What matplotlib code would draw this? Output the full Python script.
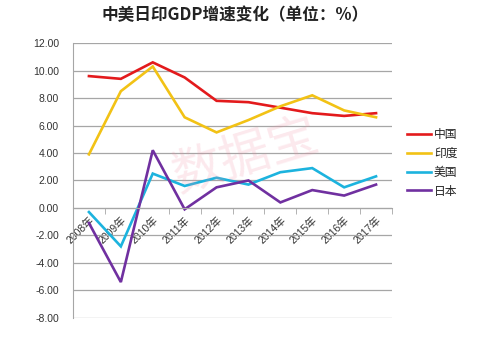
import matplotlib
matplotlib.use("Agg")
import matplotlib.pyplot as plt
from matplotlib.ticker import FixedLocator, NullFormatter

plt.rcParams['font.family'] = ['Noto Sans CJK SC', 'DejaVu Sans']

years = ["2008年", "2009年", "2010年", "2011年", "2012年",
         "2013年", "2014年", "2015年", "2016年", "2017年"]
china = [9.6, 9.4, 10.6, 9.5, 7.8, 7.7, 7.3, 6.9, 6.7, 6.9]
india = [3.9, 8.5, 10.3, 6.6, 5.5, 6.4, 7.4, 8.2, 7.1, 6.6]
usa = [-0.3, -2.8, 2.5, 1.6, 2.2, 1.7, 2.6, 2.9, 1.5, 2.3]
japan = [-1.1, -5.4, 4.2, -0.1, 1.5, 2.0, 0.4, 1.3, 0.9, 1.7]
y_ticks = [-8, -6, -4, -2, 0, 2, 4, 6, 8, 10, 12]

series = [("中国", china, "#E31A1C"),
          ("印度", india, "#F2C215"),
          ("美国", usa, "#1CB3DE"),
          ("日本", japan, "#7030A0")]

tick_family = ['Liberation Sans', 'Noto Sans CJK SC']

fig = plt.figure(figsize=(5.0, 3.37), dpi=100)
ax = fig.add_axes([0.146, 0.057, 0.638, 0.815])

# faint watermark behind the plot
fig.text(0.49, 0.535, "数据宝", ha="center", va="center", fontsize=36,
         color="#F08FA5", alpha=0.2, rotation=17, zorder=0)

x = list(range(len(years)))
for name, vals, col in series:
    ax.plot(x, vals, color=col, lw=1.9, label=name, solid_joinstyle='miter')

ax.set_xlim(-0.5, len(years) - 0.5)
ax.set_ylim(-8, 12)
ax.set_yticks(y_ticks)
ax.set_yticklabels([f"{v:.2f}" for v in y_ticks], fontsize=7.5,
                   color="#333333", family=tick_family)
ax.tick_params(axis='y', length=0, pad=10)
ax.yaxis.grid(True, color="#A6A6A6", lw=0.9)
ax.set_axisbelow(True)
ax.patch.set_alpha(0)

for s in ("top", "right"):
    ax.spines[s].set_visible(False)
ax.spines["left"].set_color("#A6A6A6")
ax.spines["bottom"].set_position(("data", 0))
ax.spines["bottom"].set_color("#A6A6A6")

ax.set_xticks(x)
ax.set_xticklabels(years, rotation=45, ha="right", va="top",
                   rotation_mode="anchor", fontsize=7.5, color="#333333",
                   family=tick_family)
ax.tick_params(axis='x', which='major', length=0, pad=5)
ax.xaxis.set_minor_locator(FixedLocator([i + 0.5 for i in range(-1, len(years))]))
ax.xaxis.set_minor_formatter(NullFormatter())
ax.tick_params(axis='x', which='minor', length=4, color="#A6A6A6", direction='out')

leg = ax.legend(loc="upper left", bbox_to_anchor=(1.015, 0.73), frameon=False,
                fontsize=8.5, handlelength=2.0, handletextpad=0.25,
                labelspacing=0.5)
for t in leg.get_texts():
    t.set_color("#222222")

fig.text(0.47, 0.955, "中美日印GDP增速变化（单位：%）", ha="center", va="center",
         fontsize=12, fontweight="bold", color="#222222")

fig.savefig("out.png", dpi=100)
